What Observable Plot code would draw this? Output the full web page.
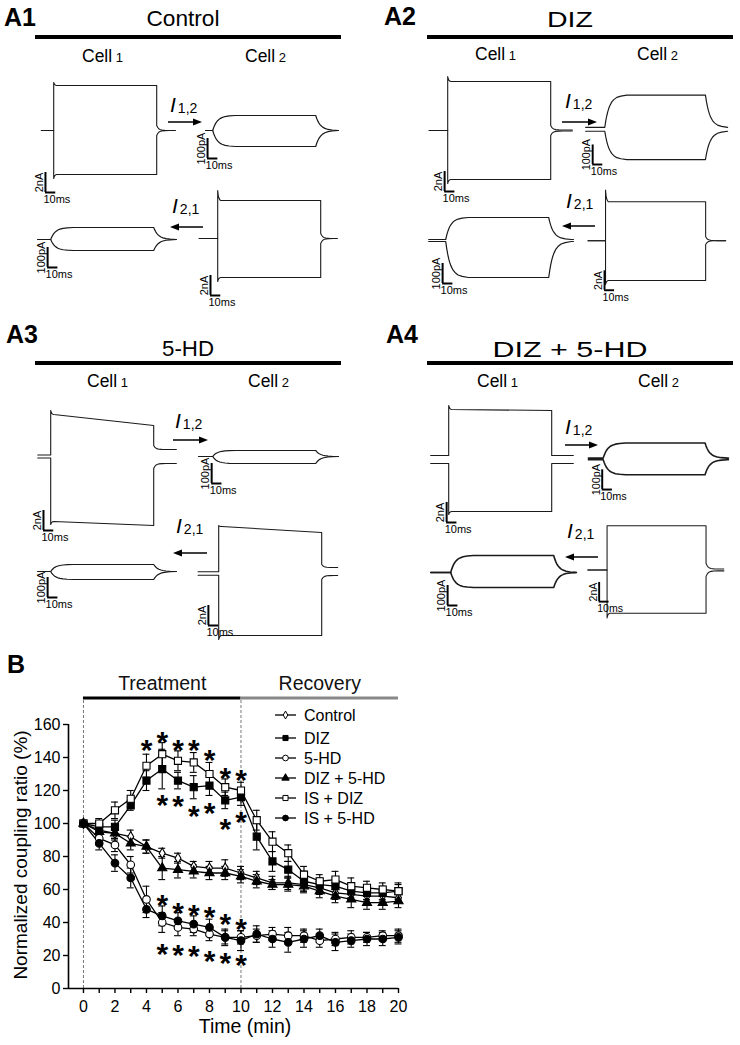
<!DOCTYPE html>
<html>
<head>
<meta charset="utf-8">
<script src="https://cdn.jsdelivr.net/npm/d3@7"></script>
<script src="https://cdn.jsdelivr.net/npm/@observablehq/plot@0.6"></script>
<style>
  html, body { margin: 0; padding: 0; background: #fff; }
  #page { position: relative; width: 740px; height: 1045px; overflow: hidden; background: #fff;
          font-family: "Liberation Sans", Arial, sans-serif; }
  .abs { position: absolute; }
  svg { overflow: visible; }
</style>
</head>
<body>
<div id="page"></div>
<script>
// ======================= DATA =======================
// ---- Panel B: normalized coupling ratio (%) vs time (min) ----
const timeMin = [0,1,2,3,4,5,6,7,8,9,10,11,12,13,14,15,16,17,18,19,20];
const seriesNames = ["Control", "DIZ", "5-HD", "DIZ + 5-HD", "IS + DIZ", "IS + 5-HD"];
const controlMean = [100,96,94,92,86,82,79,74,73,73,70,67,64,64,63,61,58,57,56,56,55];
const controlErr  = [0,3,3,4,4,3,3,3,4,5,4,4,4,4,4,4,4,3,3,3,3];
const dizMean     = [100,98,98,111,126,133,126,122,123,114,116,92,77,72,65,63,62,59,58,58,59];
const dizErr      = [0,3,4,3,6,12,5,7,6,5,5,8,6,5,6,4,5,4,4,4,4];
const hdMean      = [100,91,87,75,54,40,37,36,33,31,31,32,33,32,32,29,30,31,31,32,32];
const hdErr       = [0,4,4,5,8,6,5,4,4,4,4,4,4,5,4,4,4,4,3,3,4];
const dizHdMean   = [100,95,94,88,86,73,72,71,70,70,68,65,63,63,62,59,56,54,52,52,53];
const dizHdErr    = [0,3,4,4,4,7,5,4,4,4,4,4,3,4,4,4,4,5,4,4,4];
const isDizMean   = [100,100,108,115,135,142,138,137,130,122,120,102,89,82,69,65,66,62,61,60,59];
const isDizErr    = [0,3,5,5,7,7,6,6,7,5,5,6,6,5,5,4,5,5,4,4,5];
const isHdMean    = [100,88,76,67,48,44,41,39,37,31,29,33,30,28,30,32,28,29,30,30,31];
const isHdErr     = [0,4,5,6,5,6,5,5,5,5,6,5,5,6,5,4,5,4,4,4,4];
// significance asterisks (time, level)
const starTime  = [4,5,6,7,8,9,10, 5,6,7,8,9,10, 5,6,7,8,9,10, 5,6,7,8,9,10];
const starLevel = [149,154,149,149,143,132,131, 116,115,109,111,101,105.5,
                   55.5,50.5,49,48,43.4,40.4, 25.6,24.8,24.2,21.2,20.2,18.8];
const phaseNames = ["Treatment", "Recovery"];
const phaseStart = [0, 10];
const phaseEnd   = [10, 20];
const yTicks = [0,20,40,60,80,100,120,140,160];

// ---- Panels A1–A4: paired whole-cell recordings ----
const panelIds   = ["A1", "A2", "A3", "A4"];
const panelTitle = ["Control", "DIZ", "5-HD", "DIZ + 5-HD"];
// Stimulated cell, square current (nA). Order: A1 cell1, A1 cell2, A2 cell1, A2 cell2, A3 ..., A4 ...
const stepUpPeak    = [4.8, 4.8, 5.4, 5.2, 4.6, 4.8, 5.4, 4.6];
const stepUpStart   = [4.5, 3.8, 4.9, 4.0, 4.2, 4.7, 5.0, 4.6];
const stepUpEnd     = [4.5, 3.8, 4.9, 4.0, 3.1, 4.1, 4.9, 4.6];
const stepDownPeak  = [-4.8, -4.3, -5.3, -4.5, -6.8, -6.6, -5.5, -5.0];
const stepDownStart = [-4.4, -3.9, -4.9, -4.1, -6.5, -6.2, -5.2, -4.5];
const stepDownEnd   = [-4.4, -3.9, -4.9, -4.1, -6.9, -6.2, -5.2, -4.5];
const stepHoldUp    = [0, 0, 0, 0, 0.15, 0.17, 0.4, 0];
const stepHoldDown  = [0, 0, 0, 0, -0.15, -0.17, -0.4, 0];
const stepTailUp    = [0.5, 0.5, 0.5, 0.4, 1.1, 0.9, 0.4, 0.7];
const stepTailDown  = [-0.5, -0.5, -0.5, -0.4, -1.2, -0.6, -0.4, -0.7];
const stepTailUpEnd = [0, 0, 0.05, 0, 0.7, 0.6, 0.4, 0.1];
const stepTailDnEnd = [0, 0, -0.05, 0, -0.7, -0.2, -0.4, -0.1];
const stepWinStart  = [-12, -18, -18, -17.5, -12.6, -20, -17.5, -19.4];
const stepWinEnd    = [118, 116, 121, 120, 122, 115.5, 121, 118];
// Coupled cell, junctional current (pA). Order: A1 cell2 (I1,2), A1 cell1 (I2,1), A2 ..., A3 ..., A4 ...
const coupUp        = [75, 60, 175, 115, 30, 35, 80, 85];
const coupDown      = [-80, -55, -155, -185, -35, -40, -80, -75];
const coupHoldUp    = [0, 0, 10, 5, 0, 0, 4, 0];
const coupHoldDown  = [0, 0, -10, -5, 0, 0, -4, 0];
const coupWinStart  = [-7, -12.6, -19, -16.5, -13.6, -12.6, -14.6, -19.4];
const coupWinEnd    = [119, 121, 121, 124, 121, 121, 123, 119];
const pulseMs = 100;
// shape templates of the recorded transients
const onsetMs   = [0, 0.5, 1, 2, 3];
const onsetFrac = [1, 0.55, 0.3, 0.08, 0];
const tailMs    = [0, 1, 2, 3, 5, 8, 12];
const tailFrac  = [1, 0.6, 0.36, 0.22, 0.08, 0.02, 0];
const riseMs    = [0, 1, 2, 3, 4, 5, 7, 9, 12, 16, 22];
const riseFrac  = [0, 0.2, 0.36, 0.49, 0.59, 0.67, 0.79, 0.86, 0.93, 0.97, 1];

// ======================= LAYOUT =======================
const FONT = '"Liberation Sans", Arial, sans-serif';
const page = d3.select("#page");
function place(node, left, top) {
  const div = page.append("div").attr("class", "abs").style("left", left + "px").style("top", top + "px");
  div.node().appendChild(node);
}

// -------- traces --------
const PX_PER_MS = 1.03;
const PX_PER = {nA: 10, pA: 0.2};
const FRAME_T = [-40, 135];
const FRAME_Y = {nA: [-9.5, 6.5], pA: [-300, 260]};
const BAR = {nA: 2, pA: 100};
const BAR_LABEL = {nA: "2nA", pA: "100pA"};
// page position of pulse onset (x) and holding level (y)
const stepPos = [[53,130],[217,238],[447,130],[606,242],[50,456],[218,573],[448,459],[608,572]];
const coupPos = [[212,130],[50,239],[605,130],[445,240],[212,456],[50,571],[603,459],[450,572]];
// scale-bar anchors (ms, unit)
const stepBar = [[-8,-6.2],[-7,-5.7],[-3,-6.1],[-1,-5.1],[-7,-7.4],[-10,-5.2],[-2,-6.3],[-8,-3.3]];
const coupBar = [[-5,-140],[-3,-140],[-12,-180],[-3,-215],[-1,-135],[-3,-130],[-1,-155],[-3,-165]];

function squareSweep(peak, start, end, hold, tail, tailEnd, t0, t1, sweep) {
  const pts = [{t: t0, v: hold}, {t: 0, v: hold}];
  onsetMs.forEach((dt, i) => pts.push({t: dt, v: start + (peak - start) * onsetFrac[i]}));
  pts.push({t: pulseMs, v: end});
  tailMs.forEach((dt, i) => pts.push({t: pulseMs + dt, v: tailEnd + (tail - tailEnd) * tailFrac[i]}));
  pts.push({t: t1, v: tailEnd});
  return pts.map(p => ({...p, sweep}));
}
function couplingSweep(amp, hold, t0, t1, sweep) {
  const pts = [{t: t0, v: hold}];
  riseMs.forEach((dt, i) => pts.push({t: dt, v: hold + (amp - hold) * riseFrac[i]}));
  riseMs.forEach((dt, i) => pts.push({t: pulseMs + dt, v: amp + (hold - amp) * riseFrac[i]}));
  pts.push({t: t1, v: hold});
  return pts.map(p => ({...p, sweep}));
}
function recording(lines, unit, barAt, pos, strokeW) {
  const w = (FRAME_T[1] - FRAME_T[0]) * PX_PER_MS;
  const h = (FRAME_Y[unit][1] - FRAME_Y[unit][0]) * PX_PER[unit];
  const bar = {t: barAt[0], b: barAt[1], top: barAt[1] + BAR[unit], right: barAt[0] + 10};
  const chart = Plot.plot({
    width: w, height: h, margin: 0,
    x: {domain: FRAME_T, range: [0, w]},
    y: {domain: FRAME_Y[unit], range: [h, 0]},
    axis: null,
    style: {background: "transparent", fontFamily: FONT, overflow: "visible", color: "#000"},
    marks: [
      Plot.line(lines, {x: "t", y: "v", z: "sweep", stroke: "#1a1a1a", strokeWidth: strokeW}),
      Plot.ruleX([bar], {x: "t", y1: "b", y2: "top", stroke: "#000", strokeWidth: 2}),
      Plot.ruleY([bar], {y: "b", x1: "t", x2: "right", stroke: "#000", strokeWidth: 2}),
      Plot.text([bar], {x: d => d.t - 2.5 / PX_PER_MS, y: d => (d.b + d.top) / 2, text: () => BAR_LABEL[unit],
        rotate: -90, textAnchor: "middle", lineAnchor: "bottom", fontSize: 11, fill: "#000"}),
      Plot.text([bar], {x: d => d.t - 2 / PX_PER_MS, y: "b", text: () => "10ms",
        textAnchor: "start", lineAnchor: "top", dy: 3, fontSize: 11, fill: "#000"})
    ]
  });
  place(chart, pos[0] + FRAME_T[0] * PX_PER_MS, pos[1] - FRAME_Y[unit][1] * PX_PER[unit]);
}
for (let i = 0; i < 8; i++) {
  const lines = [
    ...squareSweep(stepUpPeak[i], stepUpStart[i], stepUpEnd[i], stepHoldUp[i], stepTailUp[i], stepTailUpEnd[i], stepWinStart[i], stepWinEnd[i], "up"),
    ...squareSweep(stepDownPeak[i], stepDownStart[i], stepDownEnd[i], stepHoldDown[i], stepTailDown[i], stepTailDnEnd[i], stepWinStart[i], stepWinEnd[i], "down")
  ];
  recording(lines, "nA", stepBar[i], stepPos[i], 1.1);
  const clines = [
    ...couplingSweep(coupUp[i], coupHoldUp[i], coupWinStart[i], coupWinEnd[i], "up"),
    ...couplingSweep(coupDown[i], coupHoldDown[i], coupWinStart[i], coupWinEnd[i], "down")
  ];
  recording(clines, "pA", coupBar[i], coupPos[i], i >= 6 ? 1.6 : 1.2);
}

// -------- Panel B --------
const means = [controlMean, dizMean, hdMean, dizHdMean, isDizMean, isHdMean];
const errs  = [controlErr, dizErr, hdErr, dizHdErr, isDizErr, isHdErr];
const symbolOf = ["diamond", "square", "circle", "triangle", "square", "circle"];
const fillOf   = ["#fff", "#000", "#fff", "#000", "#fff", "#000"];
const rOf      = [3.1, 4, 3.8, 3.4, 4, 3.8];
const CAP = 0.22;
const X0 = -0.95;      // y-axis position (min)
const PHASE_Y = 176;   // level of the Treatment/Recovery bars
const rows = seriesNames.map((name, s) => timeMin.map((t, i) => ({
  name, t, v: means[s][i], lo: means[s][i] - errs[s][i], hi: means[s][i] + errs[s][i],
  c1: t - CAP, c2: t + CAP, e: errs[s][i]
})));
const stars = starTime.map((t, i) => ({t, v: starLevel[i]}));
const phases = phaseNames.map((name, i) => ({name, x1: phaseStart[i], x2: phaseEnd[i], mid: (phaseStart[i] + phaseEnd[i]) / 2, y: PHASE_Y}));
const bounds = phaseStart.map(t => ({t, y1: 0, y2: PHASE_Y}));

const bMarks = [
  Plot.ruleX(bounds, {x: "t", y1: "y1", y2: "y2", stroke: "#777", strokeWidth: 1, strokeDasharray: "3,2"}),
  Plot.ruleY(phases, {y: "y", x1: "x1", x2: "x2", stroke: (d, i) => i === 0 ? "#000" : "#888", strokeWidth: 3}),
  Plot.text(phases, {x: "mid", y: "y", text: "name", lineAnchor: "bottom", dy: -8, fontSize: 19.5, fill: "#111"}),
  Plot.ruleY([{y: 0, x1: X0, x2: 20}], {y: "y", x1: "x1", x2: "x2", stroke: "#000", strokeWidth: 1.6}),
  Plot.ruleX([{x: X0, y1: 0, y2: 160}], {x: "x", y1: "y1", y2: "y2", stroke: "#000", strokeWidth: 1.6}),
  Plot.axisX({ticks: timeMin, tickFormat: d => d % 2 === 0 ? String(d) : "", tickSize: 5, tickPadding: 7,
    fontSize: 16, strokeWidth: 1.4, label: null}),
  Plot.axisY({ticks: yTicks, tickSize: 5, tickPadding: 3, fontSize: 16, strokeWidth: 1.4, label: null})
];
rows.forEach((r, s) => {
  const er = r.filter(d => d.e > 0);
  bMarks.push(Plot.ruleX(er, {x: "t", y1: "lo", y2: "hi", stroke: "#000", strokeWidth: 1.1}));
  bMarks.push(Plot.ruleY(er, {y: "hi", x1: "c1", x2: "c2", stroke: "#000", strokeWidth: 1.1}));
  bMarks.push(Plot.ruleY(er, {y: "lo", x1: "c1", x2: "c2", stroke: "#000", strokeWidth: 1.1}));
});
rows.forEach((r, s) => bMarks.push(Plot.line(r, {x: "t", y: "v", stroke: "#000", strokeWidth: 1.3})));
rows.forEach((r, s) => bMarks.push(Plot.dot(r, {x: "t", y: "v", symbol: symbolOf[s], r: rOf[s],
  fill: fillOf[s], stroke: "#000", strokeWidth: 1.1})));
bMarks.push(Plot.text(stars, {x: "t", y: "v", text: () => "*", fontSize: 30, fontWeight: "bold",
  lineAnchor: "middle", dy: 8, fill: "#000"}));

const plotB = Plot.plot({
  width: 410, height: 395,
  marginLeft: 68, marginRight: 12, marginTop: 74, marginBottom: 57,
  x: {domain: [X0, 20], label: null},
  y: {domain: [0, 160], label: null},
  style: {background: "transparent", fontFamily: FONT, fontSize: "16px", color: "#000", overflow: "visible"},
  marks: bMarks
});
place(plotB, 0, 650);

// -------- annotation overlay --------
const ov = page.append("svg").attr("class", "abs").attr("width", 740).attr("height", 1045)
  .style("left", "0px").style("top", "0px").style("pointer-events", "none")
  .attr("font-family", FONT);

function txt(x, y, s, size, opts = {}) {
  const t = ov.append("text").attr("x", x).attr("y", y).attr("font-size", size).attr("fill", "#000").text(s);
  if (opts.anchor) t.attr("text-anchor", opts.anchor);
  if (opts.weight) t.attr("font-weight", opts.weight);
  if (opts.style) t.attr("font-style", opts.style);
  if (opts.len) t.attr("textLength", opts.len).attr("lengthAdjust", "spacingAndGlyphs");
  if (opts.rotate) t.attr("transform", `rotate(${opts.rotate},${x},${y})`);
  return t;
}
// panel letters
const letterPos = [[4, 26], [384, 25], [6, 343], [386, 343]];
panelIds.forEach((id, i) => txt(letterPos[i][0], letterPos[i][1], id, 25, {weight: "bold"}));
txt(7, 673, "B", 25, {weight: "bold"});
// titles + header bars
const titlePos = [[183, 26, 73], [570, 27, 46], [188, 356, 52], [570, 357, 155]];
panelTitle.forEach((s, i) => txt(titlePos[i][0], titlePos[i][1], s, 22, {anchor: "middle", len: titlePos[i][2]}));
const barPos = [[35, 341, 37], [427, 733, 37], [35, 341, 363], [427, 733, 363]];
barPos.forEach(([a, b, y]) => ov.append("line").attr("x1", a).attr("x2", b).attr("y1", y).attr("y2", y)
  .attr("stroke", "#000").attr("stroke-width", 4));
// cell labels
const cellPos = [[82, 62, 245, 62], [475, 60, 637, 60], [87, 387, 248, 387], [477, 387, 638, 387]];
cellPos.forEach(([x1, y1, x2, y2]) => {
  const a = txt(x1, y1, "Cell", 17.5); a.append("tspan").attr("font-size", 13).text(" 1");
  const b = txt(x2, y2, "Cell", 17.5); b.append("tspan").attr("font-size", 13).text(" 2");
});
// junctional current labels + arrows
const iLab = [[170, 112, "1,2"], [172, 213, "2,1"], [565, 108, "1,2"], [566, 208, "2,1"],
              [175, 428, "1,2"], [176, 533, "2,1"], [565, 434, "1,2"], [567, 538, "2,1"]];
iLab.forEach(([x, y, sub]) => {
  const t = txt(x, y, "I", 21, {style: "italic"});
  t.append("tspan").attr("font-size", 14).attr("font-style", "normal").attr("dx", 2).attr("dy", 1).text(sub);
});
const arrows = [[168, 202, 122], [203, 170, 227], [562, 597, 122], [595, 562, 226],
                [173, 208, 440], [207, 173, 553], [565, 598, 445], [598, 565, 557]];
arrows.forEach(([x1, x2, y]) => {
  const dir = Math.sign(x2 - x1);
  ov.append("line").attr("x1", x1).attr("x2", x2 - dir * 6).attr("y1", y).attr("y2", y)
    .attr("stroke", "#000").attr("stroke-width", 1.5);
  ov.append("path").attr("d", `M${x2},${y} L${x2 - dir * 9},${y - 3.5} L${x2 - dir * 9},${y + 3.5} Z`).attr("fill", "#000");
});
// panel B axis titles
txt(245, 1033, "Time (min)", 19.5, {anchor: "middle"});
txt(27, 855, "Normalized coupling ratio (%)", 19, {anchor: "middle", rotate: -90});
// legend
const legY = [715, 738, 758, 778, 798, 818];
const legSize = [18, 26, 26, 24, 26, 26];
seriesNames.forEach((name, s) => {
  const y = legY[s];
  ov.append("line").attr("x1", 275).attr("x2", 296).attr("y1", y).attr("y2", y).attr("stroke", "#000").attr("stroke-width", 1.3);
  const sym = {diamond: d3.symbolDiamond, square: d3.symbolSquare, circle: d3.symbolCircle, triangle: d3.symbolTriangle}[symbolOf[s]];
  ov.append("path").attr("d", d3.symbol(sym, legSize[s])()).attr("transform", `translate(285.5,${y})`)
    .attr("fill", fillOf[s]).attr("stroke", "#000").attr("stroke-width", 1);
  txt(304, y + 6, name, 16);
});
</script>
</body>
</html>
